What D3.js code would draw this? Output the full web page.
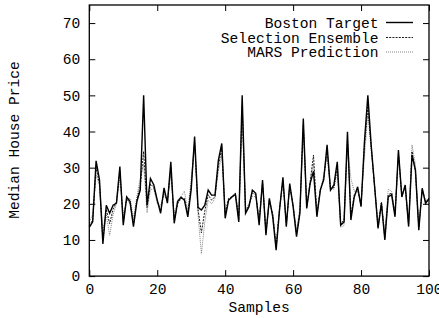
<!DOCTYPE html>
<html><head><meta charset="utf-8">
<script src="https://cdn.jsdelivr.net/npm/d3@7"></script>
<style>body{margin:0;background:#fff}svg{display:block}text{font-family:"Liberation Mono","DejaVu Sans Mono",monospace;fill:#000}</style>
</head><body>
<script>
const samples = d3.range(0, 101);
const bostonTarget = [13.5,15,31.9,26.6,8.9,19.6,17.4,19.6,20.2,30.3,14.1,21.9,20.6,13.7,20.6,23.8,50,
 19.6,27,25.2,21,17.4,24.4,20.2,31.6,14.6,20.6,21.8,21,16.4,24,38.6,19,18.3,19.6,23.8,22.4,22.4,32.1,36.7,
 16,21,21.9,22.6,15,50,17.4,19.2,23.8,22.9,14.1,26.6,11.3,21.5,16.4,7.2,18.3,27.3,13.7,25.6,19.2,10.9,17.4,
 43.6,18.7,25.6,29,16.4,23.8,26.6,36.3,23.8,25.2,31.6,14.1,15,39.9,15.5,21.9,24.7,19.2,37.2,50,36,24.7,13.2,
 20.1,10,21.9,22.5,16.4,34.9,21.9,25.2,13.7,33.5,29.3,12.7,24.3,20.1,21.5];
const selectionEnsemble = [14,15.5,30,25.5,10,18.5,14.5,18.5,20.5,29,15,21.5,20,14.5,21,25,34.5,
 19,25.5,24.5,21,18,23.5,20.5,30,15.5,20,21.5,21.5,17,25,37,18.5,12,18,22.5,21,22,30.5,35.5,
 17,21.5,22,23,15.5,47,18,19.5,23,22.5,15,26,12,21,17,8,18.5,26.5,14,25,19.5,11.5,18,
 42,19,26,33.5,17,24,27,35,24,24.5,30.5,14.5,15.5,38,17,22.5,24,19.5,36,47,35.5,24.5,13.5,
 20.5,10.5,22.5,23,17,34,22,25,14,34.5,29,13.5,24,20.5,21];
const marsPrediction = [15,17,28,25,13,17,11.3,17,20,27,17,21,21.5,16,22,27,31,
 17.5,24,24,20,19.5,22.5,21,28,17,21,22,23.5,18,27,37,17,6.2,15,21,20,21.5,29,33.5,
 18,21,22,23,17,44,18.5,20,22,22,16,25.5,13,20.5,17.5,9,19,26,15,24.5,20,12.5,19,
 40,19.5,26,31,18,23,28,33,24.5,24,29,13.5,14,36,27,23.5,23.5,20,33,45,34.5,25,14.5,
 20.5,12,24,23.5,17.5,33,22.5,24.5,15,36.3,31,14.5,23.5,21,21];
const xTicks = [0,20,40,60,80,100];
const yTicks = [0,10,20,30,40,50,60,70];
const seriesNames = ["Boston Target","Selection Ensemble","MARS Prediction"];

const W = 439, H = 318;
const m = {left: 89.3, right: 429, top: 5, bottom: 276.1};
const svg = d3.select("body").append("svg").attr("width", W).attr("height", H);
const x = d3.scaleLinear().domain([0,100]).range([m.left, m.right]);
const y = d3.scaleLinear().domain([0,75]).range([m.bottom, m.top]);
const fs = "14.6px";

const styles = [
  {stroke:"#000", width:1.4, dash:null},
  {stroke:"#000", width:0.9, dash:"2,1.2"},
  {stroke:"#666", width:0.8, dash:"1,1"}
];
const data = [bostonTarget, selectionEnsemble, marsPrediction];
const line = d3.line().x((d,i)=>x(samples[i])).y(d=>y(d));
// draw MARS first, then ensemble, then target on top
[2,1,0].forEach(k=>{
  svg.append("path").datum(data[k]).attr("d", line).attr("fill","none")
    .attr("stroke", styles[k].stroke).attr("stroke-width", styles[k].width)
    .attr("stroke-dasharray", styles[k].dash).attr("stroke-linejoin","miter");
});

// axes (inward ticks, mirrored)
const tl = 6;
const gb = svg.append("g").attr("transform",`translate(0,${m.bottom})`)
  .call(d3.axisBottom(x).tickValues(xTicks).tickSize(-tl).tickPadding(tl+4));
const gt = svg.append("g").attr("transform",`translate(0,${m.top})`)
  .call(d3.axisTop(x).tickValues(xTicks).tickSize(-tl).tickFormat(""));
const gl = svg.append("g").attr("transform",`translate(${m.left},0)`)
  .call(d3.axisLeft(y).tickValues(yTicks).tickSize(-tl).tickPadding(tl+3));
const gr = svg.append("g").attr("transform",`translate(${m.right},0)`)
  .call(d3.axisRight(y).tickValues(yTicks).tickSize(-tl).tickFormat(""));
[gb,gt,gl,gr].forEach(g=>{
  g.select(".domain").remove();
  g.selectAll("line").attr("stroke","#000").attr("stroke-width",1);
  g.selectAll("text").style("font-size",fs).style("font-family",'"Liberation Mono",monospace');
});
gb.selectAll("text").attr("dy","0.55em");
gl.selectAll("text").attr("dy","0.32em");
svg.append("rect").attr("x",m.left).attr("y",m.top).attr("width",m.right-m.left).attr("height",m.bottom-m.top)
  .attr("fill","none").attr("stroke","#000").attr("stroke-width",1.3);

svg.append("text").attr("x",(m.left+m.right)/2).attr("y",312).attr("text-anchor","middle")
  .style("font-size",fs).text("Samples");
svg.append("text").attr("transform","translate(19,140) rotate(-90)").attr("text-anchor","middle")
  .style("font-size",fs).text("Median House Price");

// legend
const ly = [22.5, 37.5, 52];
seriesNames.forEach((n,k)=>{
  svg.append("text").attr("x",378.5).attr("y",ly[k]).attr("dy","0.35em").attr("text-anchor","end")
    .style("font-size",fs).text(n);
  svg.append("line").attr("x1",386).attr("x2",413).attr("y1",ly[k]).attr("y2",ly[k])
    .attr("stroke",styles[k].stroke).attr("stroke-width",styles[k].width).attr("stroke-dasharray",styles[k].dash);
});
</script>
</body></html>
